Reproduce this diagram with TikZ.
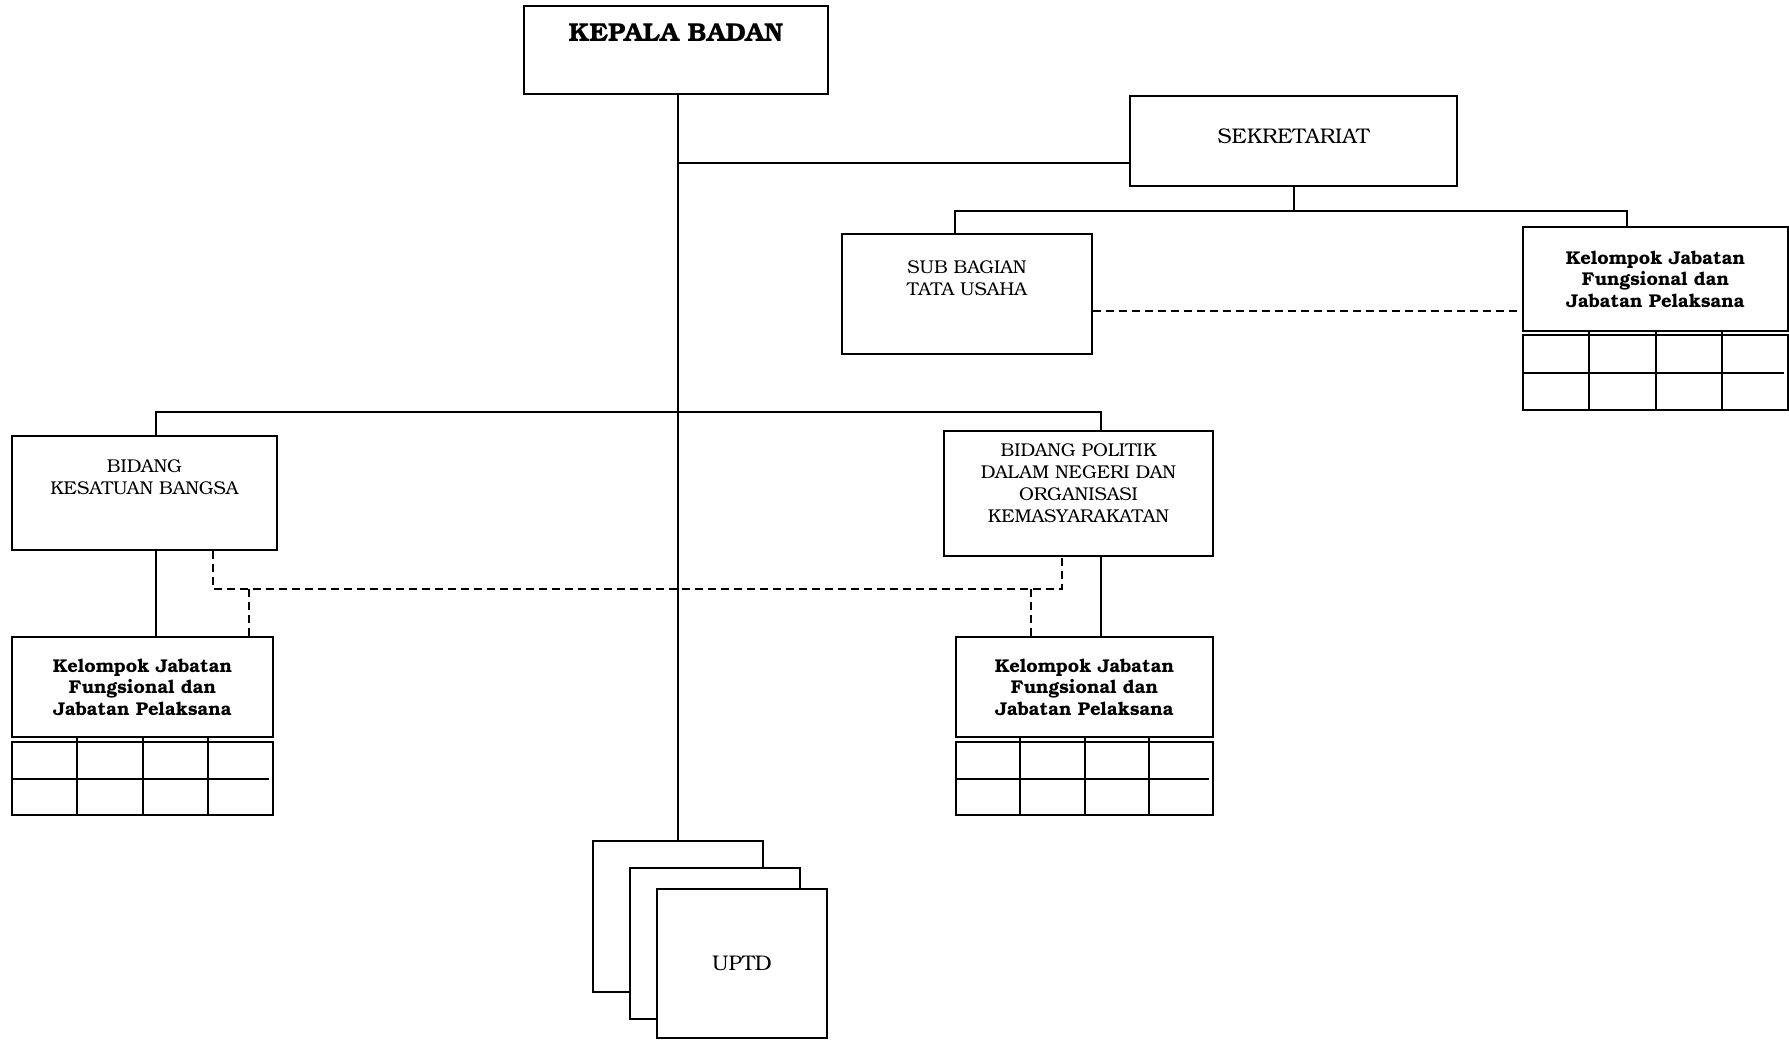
\documentclass[tikz,border=0pt]{standalone}
\usepackage{fontspec}
\setmainfont{TeX Gyre Bonum}
\usetikzlibrary{calc}

\tikzset{
  kotak/.style={draw, line width=1.9pt, inner sep=0pt, fill=white},
  teks/.style={align=center, font=\fontsize{18.5}{22}\selectfont},
  besar/.style={align=center, font=\fontsize{21.2}{25}\selectfont},
  tebal/.style={align=center, font=\fontsize{18.5}{21.5}\selectfont\bfseries},
  garis/.style={line width=2pt},
  putus/.style={line width=1.9pt, dash pattern=on 8pt off 5pt}
}

\begin{document}
\begin{tikzpicture}[x=1pt, y=-1pt]
        \useasboundingbox (0,0) rectangle (1789,1041);

        \node[kotak, minimum width=304pt, minimum height=88pt] (kepala) at (676,50) {};
        \node[tebal, font=\fontsize{26}{30}\selectfont\bfseries] (kepalateks) at (676,33) {KEPALA BADAN};

        \node[kotak, minimum width=327pt, minimum height=90pt] (sek) at (1293.5,141) {};
        \node[besar] (sekteks) at (1293.5,136) {SEKRETARIAT};

        \node[kotak, minimum width=250pt, minimum height=120pt] (subbag) at (967,294) {};
        \node[teks] (subbagteks) at (967,278) {SUB BAGIAN\\TATA USAHA};

        \node[kotak, minimum width=265pt, minimum height=114pt] (bkb) at (144.5,493) {};
        \node[teks] (bkbteks) at (144.5,477) {BIDANG\\KESATUAN BANGSA};

        \node[kotak, minimum width=269pt, minimum height=125pt] (bpol) at (1078.5,493.5) {};
        \node[teks] (bpolteks) at (1078.5,483) {BIDANG POLITIK\\DALAM NEGERI DAN\\ORGANISASI\\KEMASYARAKATAN};

        \node[kotak, tebal, minimum width=265pt, minimum height=104pt] (kjkanan) at (1655.5,279) {Kelompok Jabatan\\Fungsional dan\\Jabatan Pelaksana};
        \node[kotak, minimum width=265pt, minimum height=75pt] (gridkanan) at (1655.5,372.5) {};

        \node[kotak, tebal, minimum width=261pt, minimum height=100pt] (kjkiri) at (142.5,687) {Kelompok Jabatan\\Fungsional dan\\Jabatan Pelaksana};
        \node[kotak, minimum width=261pt, minimum height=73pt] (gridkiri) at (142.5,778.5) {};

        \node[kotak, tebal, minimum width=257pt, minimum height=100pt] (kjtengah) at (1084.5,687) {Kelompok Jabatan\\Fungsional dan\\Jabatan Pelaksana};
        \node[kotak, minimum width=257pt, minimum height=73pt] (gridtengah) at (1084.5,778.5) {};

        \foreach \g/\k in {gridkiri/kjkiri, gridtengah/kjtengah, gridkanan/kjkanan} {
            \foreach \i in {1,2,3}
                \draw[garis] ($(\k.south west)!\i/4!(\k.south east)$) -- ($(\g.south west)!\i/4!(\g.south east)$);
            \draw[garis] (\g.west) -- ([xshift=-5pt]\g.east);
        }

        \node[kotak, minimum width=170pt, minimum height=151pt] (uptd1) at (678,916.5) {};
        \node[kotak, minimum width=170pt, minimum height=151pt] (uptd2) at (715,943.5) {};
        \node[kotak, besar, minimum width=170pt, minimum height=149pt] (uptd3) at (742,963.5) {UPTD};

        \coordinate (tUtama) at (678,94);
        \coordinate (tSek) at (1294,186);
        \coordinate (tSub) at (955,211);
        \coordinate (tKj) at (1627,211);
        \coordinate (tBkb) at (156,412);
        \coordinate (tBpol) at (1101,412);
        \coordinate (pA) at (213,589);
        \coordinate (pB) at (1062,589);
        \coordinate (pC) at (249,589);
        \coordinate (pD) at (1031,589);

        \draw[garis] (tUtama |- kepala.south) -- (tUtama |- uptd1.north);
        \draw[garis] (tUtama |- 0,163) -- (sek.west |- 0,163);
        \draw[garis] (tSek |- sek.south) -- (tSek |- tSub);
        \draw[garis] (tSub |- subbag.north) |- (tKj) -- (tKj |- kjkanan.north);
        \draw[putus] (subbag.east |- 0,311) -- (kjkanan.west |- 0,311);

        \draw[garis] (tBkb |- bkb.north) |- (tBpol) -- (tBpol |- bpol.north);
        \draw[garis] (tBkb |- bkb.south) -- (tBkb |- kjkiri.north);
        \draw[garis] (tBpol |- bpol.south) -- (tBpol |- kjtengah.north);

        \draw[putus] (pA |- bkb.south) -- (pA) -- (pB) -- (pB |- bpol.south);
        \draw[putus] (pC) -- (pC |- kjkiri.north);
        \draw[putus] (pD) -- (pD |- kjtengah.north);

    \end{tikzpicture}
\end{document}
